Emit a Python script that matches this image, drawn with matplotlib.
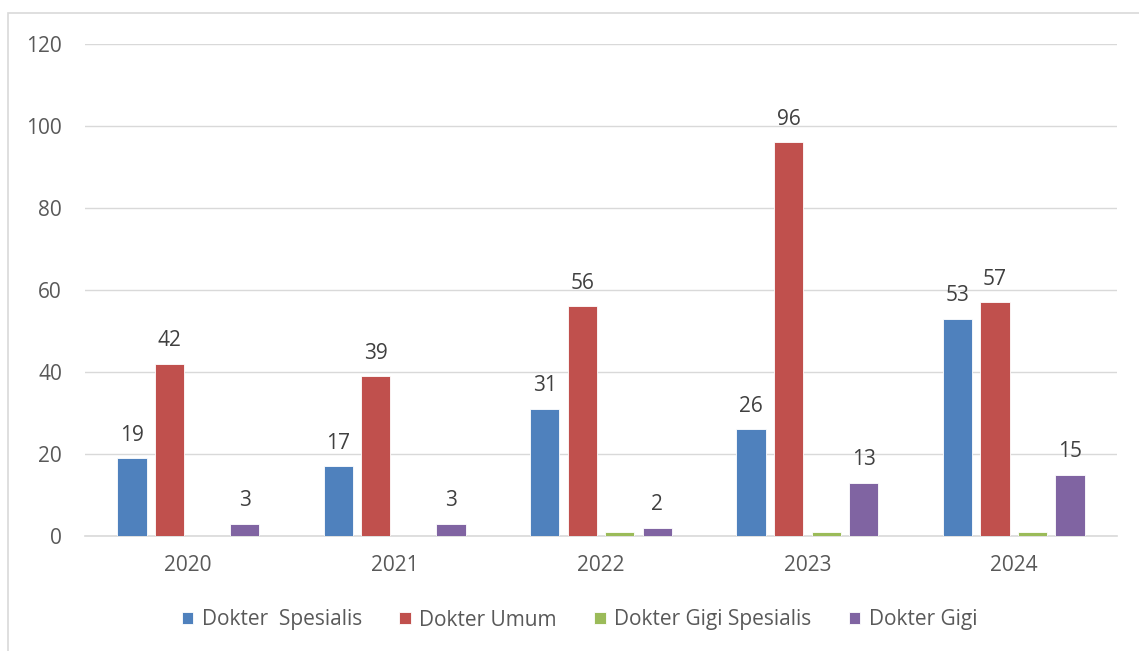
import matplotlib.pyplot as plt
import numpy as np
from matplotlib.patches import Rectangle

years = ["2020", "2021", "2022", "2023", "2024"]
series_names = ["Dokter  Spesialis", "Dokter Umum", "Dokter Gigi Spesialis", "Dokter Gigi"]
spesialis = [19, 17, 31, 26, 53]
umum = [42, 39, 56, 96, 57]
gigi_spesialis = [0, 0, 1, 1, 1]
gigi = [3, 3, 2, 13, 15]
colors = ["#4f81bd", "#c0504d", "#9bbb59", "#8064a2"]
show_labels = [True, True, False, True]

plt.rcParams["font.family"] = ["Open Sans", "DejaVu Sans"]

fig = plt.figure(figsize=(11.39, 6.51), dpi=100)
# outer chart frame
fig.patches.append(Rectangle((8 / 1139, -0.01), 1.1, 1 - 13 / 651 + 0.01,
                             transform=fig.transFigure, fill=False,
                             edgecolor="#d9d9d9", linewidth=1.2))
ax = fig.add_axes([85 / 1139, 1 - 536 / 651, 1032 / 1139, 492 / 651])

x = np.arange(len(years)) + 0.5
width = 0.142
step = 0.182
all_series = [spesialis, umum, gigi_spesialis, gigi]
for i, vals in enumerate(all_series):
    pos = x + (i - 1.5) * step
    ax.bar(pos, vals, width, color=colors[i], label=series_names[i],
           edgecolor="white", linewidth=0.6, zorder=3)
    if show_labels[i]:
        for p, v in zip(pos, vals):
            ax.annotate(str(v), (p, v), xytext=(0, 9), textcoords="offset points",
                        ha="center", va="bottom", fontsize=15, color="#404040")

ax.set_xlim(0, 5)
ax.set_ylim(0, 120)
ax.set_yticks(range(0, 121, 20))
ax.set_xticks(x)
ax.set_xticklabels(years)
ax.grid(axis="y", color="#d9d9d9", linewidth=1, zorder=0)
for s in ["top", "right", "left"]:
    ax.spines[s].set_visible(False)
ax.spines["bottom"].set_color("#d9d9d9")
ax.spines["bottom"].set_linewidth(1.2)
ax.tick_params(length=0, labelsize=15, colors="#595959")
ax.tick_params(axis="y", pad=16.5)
ax.tick_params(axis="x", pad=14)

fig.legend(loc="center", bbox_to_anchor=(579.5 / 1139, 1 - 620 / 651), ncol=4,
           frameon=False, fontsize=15, handlelength=0.55, handleheight=0.55,
           handletextpad=0.4, columnspacing=1.8, labelcolor="#595959")

fig.savefig("out.png", dpi=100)
